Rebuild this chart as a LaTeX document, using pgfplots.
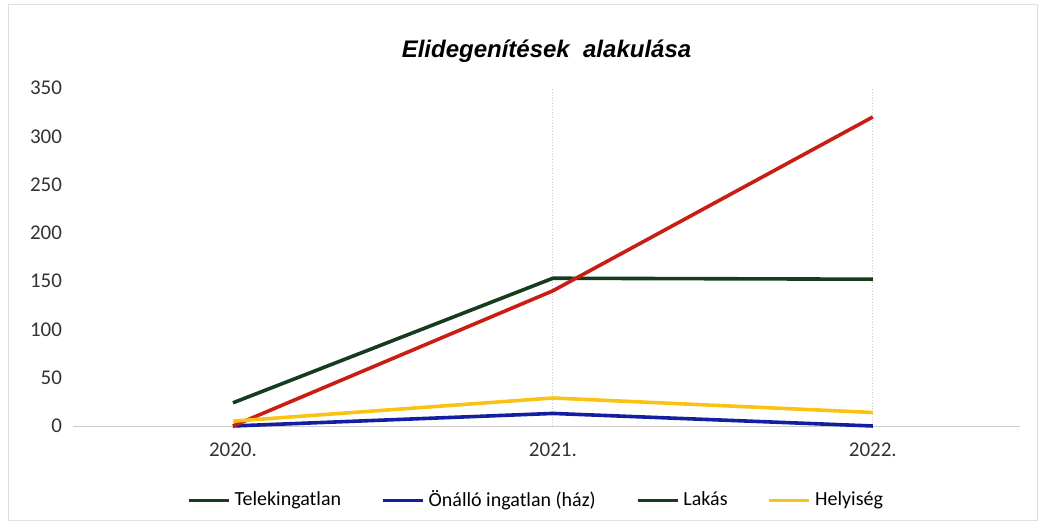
\documentclass[border=0pt]{standalone}
\usepackage{pgfplots}
\pgfplotsset{compat=1.18}
\usepackage{fontspec}
\setmainfont{Carlito}
\newfontfamily\arial{Liberation Sans}
\definecolor{dgreen}{RGB}{22,60,30}
\definecolor{lred}{RGB}{200,30,20}
\definecolor{lblue}{RGB}{20,30,160}
\definecolor{lyellow}{RGB}{250,195,20}
\begin{document}
\begin{tikzpicture}
\useasboundingbox (-36.5pt,-49pt) rectangle (484pt,213pt);
\draw[gray!25] (-32.5pt,-47pt) rectangle (482pt,211pt);
\begin{axis}[
  at={(0,0)}, anchor=south west,
  scale only axis, width=473.5pt, height=169pt,
  xmin=-0.5, xmax=2.46, ymin=0, ymax=350,
  xtick={0,1,2}, xticklabels={2020.,2021.,2022.},
  extra x ticks={1,2}, extra x tick labels={},
  extra x tick style={xmajorgrids=true, grid style={gray!40, densely dotted}},
  ytick={0,50,...,350},
  axis y line*=left, y axis line style={draw=none},
  axis x line*=bottom,
  x axis line style={gray!40, -},
  xtick style={draw=none}, ytick style={draw=none},
  every tick label/.style={font=\fontsize{10.5}{12}\selectfont, text=black!80},
  /pgf/number format/assume math mode=true,
  yticklabel style={anchor=east, xshift=-2pt},
  xticklabel style={yshift=-5pt},
  title={\arial\bfseries\itshape Elidegenítések\ \ alakulása},
  title style={font=\fontsize{12}{14}\selectfont, at={(0.5,1)}, yshift=12.5pt, anchor=center},
  legend style={at={(0.49,-0.22)}, anchor=center, draw=none, legend columns=4,
    font=\fontsize{10}{12}\selectfont, /tikz/every even column/.append style={column sep=18pt}},
  legend image code/.code={\draw[#1, line width=1.8pt] (0pt,0pt) -- (20pt,0pt);},
  clip=false,
]
\addplot[dgreen, line width=1.8pt] coordinates {(0,24) (1,153) (2,152)};
\addlegendentry{Telekingatlan}
\addplot[lblue, line width=1.8pt] coordinates {(0,0) (1,13) (2,0)};
\addlegendentry{Önálló ingatlan (ház)}
\addplot[lred, line width=1.8pt, legend image code/.code={\draw[dgreen, line width=1.8pt] (0pt,0pt) -- (20pt,0pt);}] coordinates {(0,0) (1,140) (2,320)};
\addlegendentry{Lakás}
\addplot[lyellow, line width=1.8pt] coordinates {(0,5) (1,29) (2,14)};
\addlegendentry{Helyiség}
\end{axis}
\end{tikzpicture}
\end{document}
